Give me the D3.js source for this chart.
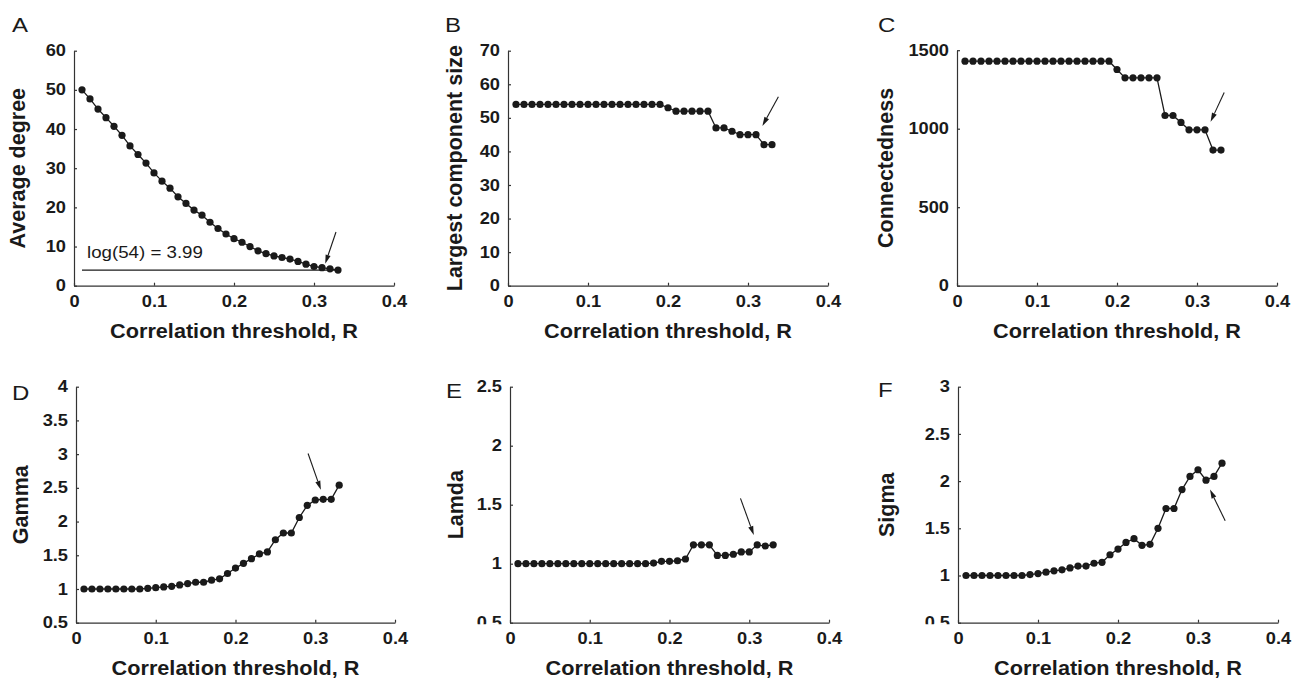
<!DOCTYPE html>
<html>
<head>
<meta charset="utf-8">
<script src="https://cdn.jsdelivr.net/npm/d3@7"></script>
<style>
  body { margin: 0; background: #fff; }
  svg { display: block; }
  text { font-family: "Liberation Sans", Arial, Helvetica, sans-serif; fill: #1a1a1a; }
</style>
</head>
<body>
<svg id="chart" width="1297" height="682"></svg>
<script>
// correlation thresholds (x values shared by all six panels)
const thresholds = [0.01, 0.02, 0.03, 0.04, 0.05, 0.06, 0.07, 0.08, 0.09, 0.10, 0.11,
  0.12, 0.13, 0.14, 0.15, 0.16, 0.17, 0.18, 0.19, 0.20, 0.21, 0.22, 0.23, 0.24, 0.25,
  0.26, 0.27, 0.28, 0.29, 0.30, 0.31, 0.32, 0.33];

const avgDegree = [50, 47.7, 45.1, 42.9, 40.7, 38.4, 35.7, 33.5, 31.3, 28.8, 26.7,
  24.9, 22.7, 21.0, 19.3, 18.0, 16.2, 14.6, 13.2, 12.0, 11.1, 10.0, 8.9, 8.2, 7.6,
  7.2, 6.8, 6.2, 5.5, 4.9, 4.6, 4.3, 4.0];
const largestComponent = [54, 54, 54, 54, 54, 54, 54, 54, 54, 54, 54, 54, 54, 54, 54,
  54, 54, 54, 54, 53, 52, 52, 52, 52, 52, 47, 47, 46, 45, 45, 45, 42, 42];
const connectedness = [1430, 1430, 1430, 1430, 1430, 1430, 1430, 1430, 1430, 1430,
  1430, 1430, 1430, 1430, 1430, 1430, 1430, 1430, 1430, 1377, 1324, 1324, 1324, 1324,
  1324, 1084, 1084, 1040, 993, 993, 993, 864, 864];
const gamma = [1, 1, 1, 1, 1, 1, 1, 1, 1.01, 1.02, 1.03, 1.04, 1.06, 1.08, 1.10, 1.10,
  1.13, 1.15, 1.23, 1.31, 1.38, 1.45, 1.52, 1.55, 1.73, 1.83, 1.83, 2.06, 2.24, 2.32,
  2.33, 2.33, 2.54];
const lamda = [1, 1, 1, 1, 1, 1, 1, 1, 1, 1, 1, 1, 1, 1, 1, 1, 1, 1.005, 1.02, 1.02,
  1.025, 1.04, 1.16, 1.16, 1.16, 1.07, 1.07, 1.08, 1.10, 1.10, 1.16, 1.15, 1.16];
const sigma = [1, 1, 1, 1, 1, 1, 1, 1, 1.01, 1.02, 1.035, 1.05, 1.06, 1.08, 1.10, 1.10,
  1.13, 1.14, 1.22, 1.28, 1.35, 1.39, 1.32, 1.33, 1.50, 1.71, 1.71, 1.91, 2.05, 2.12,
  2.01, 2.05, 2.19];

// tick labels
const xTicks = [0, 0.1, 0.2, 0.3, 0.4];
const yTicksA = [0, 10, 20, 30, 40, 50, 60];
const yTicksB = [0, 10, 20, 30, 40, 50, 60, 70];
const yTicksC = [0, 500, 1000, 1500];
const yTicksD = [0.5, 1, 1.5, 2, 2.5, 3, 3.5, 4];
const yTicksE = [0.5, 1, 1.5, 2, 2.5];
const yTicksF = [0.5, 1, 1.5, 2, 2.5, 3];

// annotations: arrow [from, to] in data units, reference line for A
const arrowA = [[0.3275, 13.7], [0.314, 5.6]];
const arrowB = [[0.338, 56.3], [0.318, 47.6]];
const arrowC = [[0.334, 1231], [0.317, 1044]];
const arrowD = [[0.291, 3.01], [0.307, 2.47]];
const arrowE = [[0.289, 1.554], [0.3057, 1.243]];
const arrowF = [[0.334, 1.58], [0.315, 1.91]];
const logLine = 3.99;
const logLabel = "log(54) = 3.99";

const xTitle = "Correlation threshold, R";

const panels = [
  { letter: "A", values: avgDegree, ticks: yTicksA, title: "Average degree", arrow: arrowA,
    x0: 74, x1: 394, top: 50.7, bottom: 285.7, titleGap: 49, lx: 12, ly: 32 },
  { letter: "B", values: largestComponent, ticks: yTicksB, title: "Largest component size", arrow: arrowB,
    x0: 508, x1: 828, top: 50.7, bottom: 285.7, titleGap: 46, lx: 445, ly: 32 },
  { letter: "C", values: connectedness, ticks: yTicksC, title: "Connectedness", arrow: arrowC,
    x0: 957, x1: 1277, top: 50.2, bottom: 285.7, titleGap: 64, lx: 878, ly: 32 },
  { letter: "D", values: gamma, ticks: yTicksD, title: "Gamma", arrow: arrowD,
    x0: 76, x1: 395, top: 386.7, bottom: 622.7, titleGap: 48, lx: 12, ly: 400 },
  { letter: "E", values: lamda, ticks: yTicksE, title: "Lamda", arrow: arrowE, clipLow: true,
    x0: 510, x1: 829, top: 386.7, bottom: 622.7, titleGap: 47, lx: 446, ly: 398 },
  { letter: "F", values: sigma, ticks: yTicksF, title: "Sigma", arrow: arrowF, clipLow: true,
    x0: 958, x1: 1278, top: 386.7, bottom: 622.7, titleGap: 64, lx: 878, ly: 397 }
];

const ink = "#1a1a1a";
const svg = d3.select("#chart");
const defs = svg.append("defs");
defs.append("clipPath").attr("id", "lowclip")
  .append("rect").attr("x", -60).attr("y", -20).attr("width", 60).attr("height", 21);

// the figure's lettering is a little wider than the font, so widen it
function widen(sel, k) {
  sel.each(function () {
    const w = this.getComputedTextLength();
    d3.select(this).attr("textLength", w * k).attr("lengthAdjust", "spacingAndGlyphs");
  });
}

panels.forEach(p => {
  const x = d3.scaleLinear().domain([0, 0.4]).range([p.x0, p.x1]);
  const y = d3.scaleLinear().domain(d3.extent(p.ticks)).range([p.bottom, p.top]);

  const g = svg.append("g");

  const xAxis = g.append("g")
    .attr("transform", `translate(0,${p.bottom})`)
    .call(d3.axisBottom(x).tickValues(xTicks).tickFormat(d => String(d))
      .tickSizeInner(-3).tickSizeOuter(0).tickPadding(9.5));
  const yAxis = g.append("g")
    .attr("transform", `translate(${p.x0},0)`)
    .call(d3.axisLeft(y).tickValues(p.ticks).tickFormat(d => String(d))
      .tickSizeInner(-3).tickSizeOuter(0).tickPadding(8));

  [xAxis, yAxis].forEach(a => {
    a.attr("font-family", null).attr("font-size", null);
    a.select(".domain").attr("stroke", "#333").attr("stroke-width", 1.2);
    a.selectAll(".tick line").attr("stroke", "#333").attr("stroke-width", 1.2);
    a.selectAll(".tick text").attr("fill", ink)
      .style("font-size", "16px").style("font-weight", "bold")
      .call(widen, 1.14);
  });
  if (p.clipLow) {
    yAxis.selectAll(".tick text").filter(d => d === p.ticks[0])
      .attr("clip-path", "url(#lowclip)");
  }

  // x axis title
  g.append("text")
    .attr("x", (p.x0 + p.x1) / 2)
    .attr("y", p.bottom + 52)
    .attr("text-anchor", "middle")
    .style("font-size", "19.5px").style("font-weight", "bold")
    .text(xTitle)
    .call(widen, 1.11);

  // y axis title
  const ty = (p.top + p.bottom) / 2;
  const tx = p.x0 - p.titleGap;
  g.append("text")
    .attr("transform", `translate(${tx},${ty}) rotate(-90)`)
    .attr("text-anchor", "middle")
    .style("font-size", "21.5px").style("font-weight", "bold")
    .text(p.title);

  // panel letter
  g.append("text")
    .attr("x", p.lx).attr("y", p.ly)
    .style("font-size", "20px")
    .text(p.letter)
    .call(widen, 1.2);

  const pts = thresholds.map((t, i) => ({ t, v: p.values[i] }));

  if (p.letter === "A") {
    g.append("line")
      .attr("x1", x(thresholds[0])).attr("x2", x(thresholds[thresholds.length - 1]))
      .attr("y1", y(logLine)).attr("y2", y(logLine))
      .attr("stroke", ink).attr("stroke-width", 1.3);
    g.append("text")
      .attr("x", x(thresholds[0]) + 5)
      .attr("y", y(logLine) - 12.5)
      .style("font-size", "17px")
      .text(logLabel)
      .call(widen, 1.1);
  }

  g.append("path")
    .datum(pts)
    .attr("fill", "none")
    .attr("stroke", ink)
    .attr("stroke-width", 1.3)
    .attr("d", d3.line().x(d => x(d.t)).y(d => y(d.v)));

  g.selectAll("circle.pt")
    .data(pts)
    .join("circle")
    .attr("class", "pt")
    .attr("cx", d => x(d.t))
    .attr("cy", d => y(d.v))
    .attr("r", 3.6)
    .attr("fill", ink);

  // arrow
  const [a, b] = p.arrow;
  const ax = x(a[0]), ay = y(a[1]), bx = x(b[0]), by = y(b[1]);
  const ang = Math.atan2(by - ay, bx - ax);
  const hl = 9, hw = 2.6;
  const baseX = bx - hl * Math.cos(ang), baseY = by - hl * Math.sin(ang);
  g.append("line")
    .attr("x1", ax).attr("y1", ay).attr("x2", baseX).attr("y2", baseY)
    .attr("stroke", ink).attr("stroke-width", 1.1);
  g.append("path")
    .attr("d", `M${bx},${by}L${baseX + hw * Math.sin(ang)},${baseY - hw * Math.cos(ang)}` +
      `L${baseX - hw * Math.sin(ang)},${baseY + hw * Math.cos(ang)}Z`)
    .attr("fill", ink);
});
</script>
</body>
</html>
